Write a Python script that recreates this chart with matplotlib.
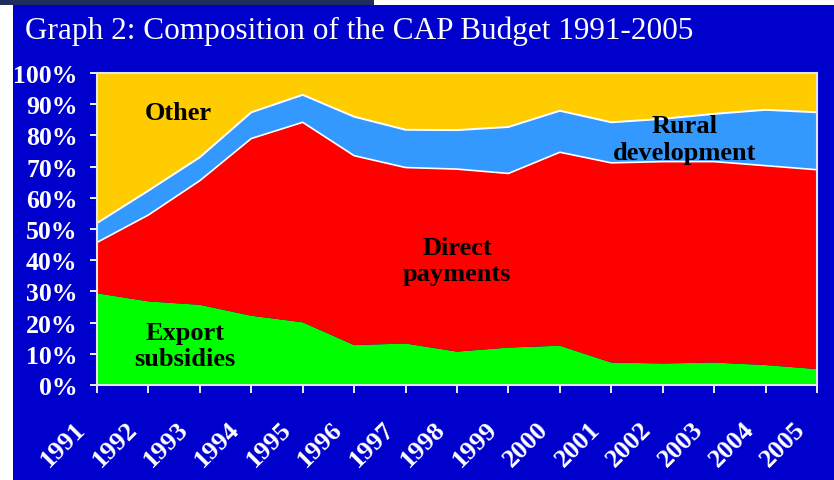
import matplotlib
matplotlib.use("Agg")
import matplotlib.pyplot as plt
from matplotlib.patches import Rectangle
from matplotlib.transforms import ScaledTranslation

years = [1991, 1992, 1993, 1994, 1995, 1996, 1997, 1998, 1999, 2000, 2001, 2002, 2003, 2004, 2005]
export_subsidies = [29.4, 26.8, 25.7, 22.2, 20.1, 12.8, 13.3, 10.7, 12.0, 12.6, 7.2, 6.9, 7.2, 6.4, 5.1]
direct_payments = [16.3, 27.7, 39.8, 56.8, 64.1, 60.7, 56.4, 58.5, 55.8, 62.0, 64.0, 64.7, 64.4, 63.9, 63.9]
rural_development = [6.2, 7.8, 7.5, 8.4, 8.8, 12.5, 12.1, 12.5, 14.9, 13.3, 13.0, 13.7, 15.3, 17.9, 18.4]
other = [48.1, 37.7, 27.0, 12.6, 7.0, 14.0, 18.2, 18.3, 17.3, 12.1, 15.8, 14.7, 13.1, 11.8, 12.6]

yticks = [0, 10, 20, 30, 40, 50, 60, 70, 80, 90, 100]
ytick_labels = ["0%", "10%", "20%", "30%", "40%", "50%", "60%", "70%", "80%", "90%", "100%"]

title = "Graph 2: Composition of the CAP Budget 1991-2005"

bg_blue = "#0000CC"
serif = ["Liberation Serif", "DejaVu Serif"]

W, H = 834, 481
fig = plt.figure(figsize=(W / 100, H / 100), dpi=100, facecolor="white")

# slide background (blue panel plus the dark header strip)
fig.patches.append(Rectangle((13 / W, 0), 1 - 13 / W, (H - 6) / H, transform=fig.transFigure,
                             facecolor=bg_blue, edgecolor="none", zorder=-10))
fig.patches.append(Rectangle((0, (H - 6) / H), 374 / W, 6 / H, transform=fig.transFigure,
                             facecolor="#1F2D5C", edgecolor="none", zorder=-10))

fig.text(25 / W, 1 - 39 / H, title, color="white", fontsize=22.5, family=serif,
         ha="left", va="baseline")

ax = fig.add_axes([97 / W, (H - 386) / H, (817 - 97) / W, (386 - 74) / H])
ax.set_facecolor(bg_blue)

ax.stackplot(years, export_subsidies, direct_payments, rural_development, other,
             colors=["#00FF00", "#FF0000", "#3399FF", "#FFCC00"], linewidth=0)

# thin white lines on the upper two boundaries
red_top = [a + b for a, b in zip(export_subsidies, direct_payments)]
blue_top = [a + b for a, b in zip(red_top, rural_development)]
ax.plot(years, red_top, color="white", lw=1.2)
ax.plot(years, blue_top, color="white", lw=1.4)

ax.set_xlim(years[0], years[-1])
ax.set_ylim(0, 100)
ax.set_yticks(yticks)
ax.set_yticklabels(ytick_labels)
ax.set_xticks(years)
ax.set_xticklabels([str(y) for y in years])

for s in ax.spines.values():
    s.set_color("#E6E6F0")
    s.set_linewidth(1.5)

ax.tick_params(axis="y", colors="white", length=5, width=1.3, pad=9, labelsize=18.5)
ax.tick_params(axis="x", colors="white", length=6, width=1.3, pad=17, labelsize=19)
for lab in ax.get_yticklabels():
    lab.set_family(serif)
    lab.set_fontweight("bold")
for lab in ax.get_xticklabels():
    lab.set_family(serif)
    lab.set_fontweight("bold")
    lab.set_rotation(45)
    lab.set_ha("right")
    lab.set_va("top")
    lab.set_transform(lab.get_transform() + ScaledTranslation(-7 / 100, 0, fig.dpi_scale_trans))

lbl = dict(color="black", fontsize=19, fontweight="bold", family=serif,
           ha="center", va="center", linespacing=1.2)
ax.text(1992.58, 87.3, "Other", **lbl)
ax.text(1992.71, 12.7, "Export\nsubsidies", **lbl)
ax.text(1998.0, 39.9, "Direct\npayments", **lbl)
ax.text(2002.43, 78.8, "Rural\ndevelopment", **lbl)

fig.savefig("out.png", dpi=100, facecolor=fig.get_facecolor())
